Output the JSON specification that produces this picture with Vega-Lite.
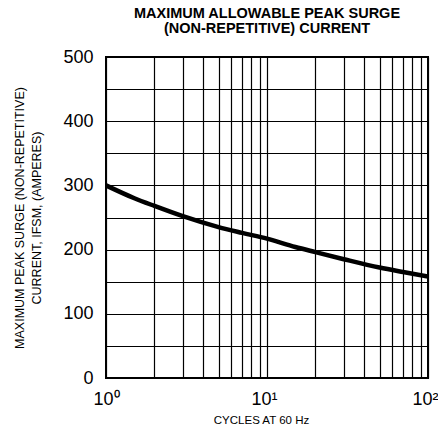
{
  "$schema": "https://vega.github.io/schema/vega-lite/v6.json",
  "width": 322,
  "height": 321,
  "autosize": {"type": "none"},
  "padding": {"left": 106, "top": 57, "right": 10, "bottom": 54},
  "background": "white",
  "title": {
    "text": ["MAXIMUM ALLOWABLE PEAK SURGE", "(NON-REPETITIVE) CURRENT"],
    "font": "Liberation Sans",
    "fontSize": 14.5,
    "fontWeight": "bold",
    "color": "black",
    "anchor": "middle",
    "offset": 12,
    "lineHeight": 15
  },
  "config": {
    "view": {"stroke": "black", "strokeWidth": 2},
    "axis": {
      "labelFont": "Liberation Sans",
      "titleFont": "Liberation Sans",
      "labelColor": "black",
      "titleColor": "black",
      "gridColor": "black",
      "gridOpacity": 1,
      "gridWidth": 1.2,
      "domain": false,
      "ticks": false
    }
  },
  "data": {
    "values": [
      {"cycles": 1, "current": 300},
      {"cycles": 1.5, "current": 280},
      {"cycles": 2, "current": 268},
      {"cycles": 3, "current": 252},
      {"cycles": 5, "current": 235},
      {"cycles": 7, "current": 226},
      {"cycles": 10, "current": 217},
      {"cycles": 15, "current": 204},
      {"cycles": 20, "current": 196},
      {"cycles": 30, "current": 185},
      {"cycles": 50, "current": 172},
      {"cycles": 70, "current": 165},
      {"cycles": 100, "current": 158}
    ]
  },
  "mark": {"type": "line", "color": "black", "strokeWidth": 4.5, "interpolate": "monotone", "clip": true},
  "encoding": {
    "x": {
      "field": "cycles",
      "type": "quantitative",
      "scale": {"type": "log", "domain": [1, 100], "nice": false},
      "axis": {
        "values": [1, 2, 3, 4, 5, 6, 7, 8, 9, 10, 20, 30, 40, 50, 60, 70, 80, 90, 100],
        "labelExpr": "datum.value == 1 ? '10⁰' : datum.value == 10 ? '10¹' : datum.value == 100 ? '10²' : ''",
        "labelFontSize": 18,
        "labelPadding": 12,
        "labelFlush": false,
        "labelOverlap": false,
        "labelOffset": {"condition": {"test": "datum.value >= 10", "value": -3}, "value": 0},
        "title": "CYCLES AT 60 Hz",
        "titleFontSize": 11.5,
        "titleFontWeight": "normal",
        "titlePadding": 6,
        "titleX": 155
      }
    },
    "y": {
      "field": "current",
      "type": "quantitative",
      "scale": {"domain": [0, 500], "nice": false},
      "axis": {
        "values": [0, 50, 100, 150, 200, 250, 300, 350, 400, 450, 500],
        "labelExpr": "datum.value % 100 == 0 ? datum.label : ''",
        "labelFontSize": 18,
        "labelPadding": 13,
        "labelFlush": false,
        "title": ["MAXIMUM PEAK SURGE (NON-REPETITIVE)", "CURRENT, IFSM, (AMPERES)"],
        "titleFontSize": 12.5,
        "titleFontWeight": "normal",
        "titlePadding": 19,
        "titleLineHeight": 17.5
      }
    }
  }
}
